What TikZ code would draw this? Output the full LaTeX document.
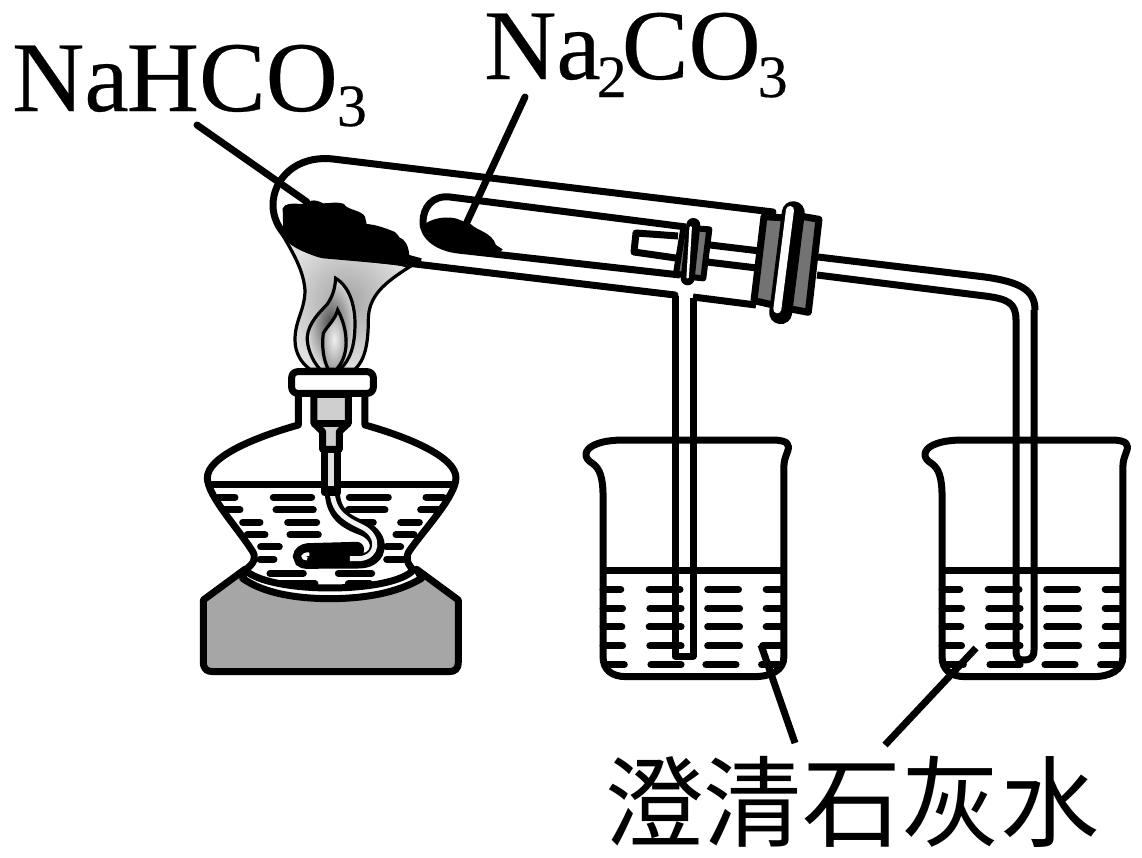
\documentclass[tikz,border=0pt]{standalone}
\usepackage{fontspec}
\setmainfont[FakeBold=0.25]{Liberation Serif}
\newfontfamily\cjkf{Noto Sans CJK SC}
\usetikzlibrary{calc}
\definecolor{stopgray}{HTML}{737373}
\definecolor{basegray}{HTML}{A6A6A6}
\definecolor{holdgray}{HTML}{CFCFCF}
\tikzset{
  ln/.style={draw=black,line width=7pt,line join=round},
  dashln/.style={draw=black,line width=7pt,line cap=round},
  lbl/.style={anchor=base west,inner sep=0pt},
  z1/.style={shift={(190,130)},x=0.3333pt,y=-0.3333pt},
  z2/.style={shift={(190,360)},x=0.3333pt,y=-0.3333pt},
  z3/.style={shift={(620,190)},x=0.3333pt,y=-0.3333pt},
}
\newcommand{\subsc}[2]{\raisebox{-#2}{\fontsize{60}{60}\selectfont #1}}
\newcommand{\beakerbody}{%
  \draw[ln] (65,680) -- (65,200) .. controls (65,140) and (55,115) .. (35,100)
    .. controls (10,85) and (10,60) .. (40,45) .. controls (70,30) and (110,30) .. (130,30)
    -- (540,30) .. controls (590,30) and (592,45) .. (585,65) .. controls (578,85) and (575,95) .. (575,110)
    -- (575,680) .. controls (575,720) and (540,740) .. (490,740) -- (130,740)
    .. controls (90,740) and (65,720) .. (65,680);
  \draw[draw=black,line width=7pt] (65,422) -- (575,422);
  \foreach \y/\a/\b/\c/\d/\e/\f/\g/\h in {
    478/65/115/195/282/360/447/525/570,
    535/65/120/197/285/360/450/525/570,
    591/65/118/195/285/360/450/525/570,
    648/65/120/197/285/360/450/515/570,
    704/75/125/200/285/355/440/512/560}{
    \draw[dashln] (\a,\y) -- (\b,\y);
    \draw[dashln] (\c,\y) -- (\d,\y);
    \draw[dashln] (\e,\y) -- (\f,\y);
    \draw[dashln] (\g,\y) -- (\h,\y);
  }%
}
\begin{document}
\begin{tikzpicture}[x=1pt,y=-1pt]
\useasboundingbox (0,0) rectangle (1142,857);
\fill[white] (0,0) rectangle (1142,857);

% ---- beakers
\begin{scope}[shift={(580,430)},x=0.3546pt,y=-0.3333pt]
  \beakerbody
\end{scope}
\begin{scope}[shift={(919,430)},x=0.3546pt,y=-0.3333pt]
  \beakerbody
\end{scope}

% ---- delivery tubes
\draw[ln] (675,296) -- (675,656) -- (693,656) -- (693,298);
\draw[ln] (1035,310) .. controls (1035,290) and (1020,282) .. (985,277) -- (818,257);
\draw[ln] (817,275) -- (985,296) .. controls (1008,299) and (1016,303) .. (1016,320)
   -- (1016,650) .. controls (1016,658) and (1018,660) .. (1024,660) .. controls (1030,660) and (1034,658) .. (1034,650) -- (1034,310);

% ---- flame
\begin{scope}[z1]
  \path[draw=black,line width=3.2pt,inner color=black!36,outer color=black!12]
    (275,310) .. controls (310,370) and (340,420) .. (345,480)
    .. controls (345,540) and (315,570) .. (315,630)
    .. controls (315,670) and (335,700) .. (360,718) -- (495,718)
    .. controls (525,690) and (535,640) .. (535,570)
    .. controls (535,500) and (580,460) .. (660,410) -- cycle;
  \path[draw=black,line width=3.2pt,inner color=black!70,outer color=black!16]
    (437,445) .. controls (480,470) and (495,530) .. (495,580)
    .. controls (495,650) and (480,690) .. (450,718) -- (390,718)
    .. controls (365,690) and (350,650) .. (352,620)
    .. controls (355,580) and (390,545) .. (410,525)
    .. controls (425,505) and (435,480) .. (437,445) -- cycle;
  \path[draw=black,line width=3.2pt,inner color=black!6,outer color=black!38]
    (443,540) .. controls (465,580) and (470,620) .. (468,650)
    .. controls (465,680) and (455,700) .. (440,718) -- (415,718)
    .. controls (400,690) and (395,650) .. (400,610)
    .. controls (410,590) and (435,570) .. (443,540) -- cycle;
\end{scope}

% ---- test tube
\fill[white] (333,159) .. controls (295,157) and (273,180) .. (273,205)
   .. controls (273,230) and (295,250) .. (323,253) -- (753,303) -- (777,213) -- cycle;
\draw[ln,line cap=round] (773,212) -- (333,159) .. controls (295,155) and (273,180) .. (273,205)
   .. controls (273,230) and (295,250) .. (323,253) -- (675,295);
\draw[ln] (693,297) -- (756,305);

% ---- powder
\begin{scope}[z1]
  \fill[black] (278,235) .. controls (285,220) and (300,220) .. (340,222)
    .. controls (360,212) and (370,205) .. (400,220) .. controls (420,220) and (440,214) .. (462,222)
    .. controls (470,240) and (515,240) .. (525,260) -- (530,282)
    .. controls (560,284) and (590,296) .. (615,306) .. controls (622,312) and (625,316) .. (628,322)
    .. controls (645,328) and (655,345) .. (658,375) -- (695,385) -- (690,412) -- (660,408) -- (400,385)
    .. controls (360,378) and (295,345) .. (280,312) -- cycle;
  \fill[black] (708,280) .. controls (730,264) and (770,258) .. (800,266) -- (842,282)
    .. controls (860,302) and (905,306) .. (918,345) -- (938,358) -- (920,378) -- (780,364)
    .. controls (740,354) and (712,320) .. (708,280) -- cycle;
\end{scope}

% ---- inner tube
\draw[ln] (686,227) -- (450,197) .. controls (432,195) and (423,208) .. (423,222)
   .. controls (423,238) and (440,248) .. (458,250) -- (680,275);
\draw[ln,line join=round] (678,236) -- (636,233) -- (634,252) -- (676,258);
\draw[ln] (710,245) -- (760,251);
\draw[ln] (707,262) -- (757,268);

% ---- small stopper
\begin{scope}[z3]
  \path[draw=black,line width=6pt,fill=stopgray,line join=round] (190,115) -- (168,250) -- (200,258) -- (222,122) -- cycle;
  \path[draw=black,line width=6pt,fill=stopgray,line join=round] (222,115) -- (268,118) -- (250,265) -- (200,260) -- cycle;
  \draw[line cap=round,black,line width=14pt] (220,105) -- (203,265);
  \draw[line cap=round,white,line width=2.5pt] (212,112) -- (203,262);
\end{scope}

% ---- big stopper
\begin{scope}[z3]
  \path[draw=black,line width=7pt,fill=stopgray,line join=round] (432,80) -- (402,332) -- (490,352) -- (515,85) -- cycle;
  \path[draw=black,line width=7pt,fill=stopgray,line join=round] (505,72) -- (597,88) -- (565,367) -- (475,350) -- cycle;
  \draw[line cap=round,black,line width=23pt] (520,68) -- (482,368);
  \draw[line cap=round,white,line width=8pt] (510,60) -- (472,358);
\end{scope}

% ---- lamp
\begin{scope}[z2]
  \path[ln,fill=basegray] (165,628) -- (40,720) -- (40,905) .. controls (40,928) and (50,935) .. (70,935)
     -- (775,935) .. controls (795,935) and (805,928) .. (805,905) -- (805,720) -- (680,628)
     -- (695,655) .. controls (620,700) and (520,716) .. (420,716) .. controls (320,716) and (220,700) .. (158,655) -- cycle;
  \path[ln,fill=white] (325,195) .. controls (200,230) and (50,290) .. (52,355)
     .. controls (55,410) and (140,500) .. (185,570) .. controls (200,590) and (195,610) .. (165,630)
     .. controls (200,665) and (310,684) .. (420,684) .. controls (530,684) and (640,665) .. (670,630)
     .. controls (650,610) and (645,590) .. (660,570)
     .. controls (710,500) and (795,410) .. (798,355)
     .. controls (800,290) and (650,230) .. (525,195) -- (525,100) -- (325,100) -- cycle;
  \foreach \y/\a/\b in {412/85/135,412/250/365,412/478/595,412/708/760,
     450/105/150,450/258/370,450/475/585,450/692/745,
     487/158/210,487/293/380,487/462/550,487/632/688,
     524/172/225,524/300/385,524/618/672,
     561/212/268,561/590/632,
     598/210/252,598/590/640,
     640/240/340,640/445/545,
     672/270/375,672/475/540}{
    \draw[dashln] (\a,\y) -- (\b,\y);
  }
  \draw[draw=black,line width=7pt] (55,375) -- (795,375);
  \fill[black,rounded corners=6pt] (362,550) rectangle (490,608);
  \draw[black,line width=15pt,line cap=round] (427,398) .. controls (430,470) and (480,490) .. (520,505)
     .. controls (580,530) and (575,600) .. (510,603) -- (350,604)
     .. controls (325,604) and (325,575) .. (355,572) -- (500,568);
  \draw[black!5,line width=5pt] (427,400) .. controls (432,465) and (482,484) .. (520,503)
     .. controls (570,530) and (565,590) .. (510,596) -- (480,596);
  \draw[white,line width=3.5pt] (352,596) .. controls (335,596) and (335,582) .. (358,582);
  \path[ln,fill=holdgray] (372,103) -- (372,190) -- (398,215) -- (398,268) -- (448,268) -- (448,215) -- (475,190) -- (475,103) -- cycle;
  \draw[ln] (372,190) -- (475,190);
  \path[ln,fill=black!12] (404,268) -- (404,398) -- (444,398) -- (444,268) -- cycle;
  \draw[draw=black,line width=4pt] (404,383) -- (444,383);
  \path[ln,fill=white,rounded corners=6pt] (305,35) rectangle (550,100);
\end{scope}

% ---- pointers
\coordinate (pa) at (197,125); \coordinate (pb) at (307,202);
\coordinate (pc) at (525,97);  \coordinate (pd) at (467,222);
\coordinate (pe) at (795,743); \coordinate (pf) at (761,645);
\coordinate (pg) at (885,745); \coordinate (ph) at (976,648);
\draw[ln,line cap=round] (pa) -- (pb);
\draw[ln,line cap=round] (pc) -- (pd);
\draw[ln] (pe) -- (pf);
\draw[ln] (pg) -- (ph);

% ---- labels
\node[lbl,font=\fontsize{100}{102}\selectfont] (nahco) at (12,111) {Na\kern-2pt HCO\kern-1pt\subsc{3}{15pt}};
\node[lbl,font=\fontsize{100}{102}\selectfont] (naco) at (484,79) {Na\kern-4pt\subsc{2}{18pt}\kern-5pt CO\kern-3pt\subsc{3}{18pt}};
\node[inner sep=0pt,font=\cjkf\fontsize{99}{100}\selectfont] (lime) at (852,802) {澄清石灰水};
\end{tikzpicture}
\end{document}
